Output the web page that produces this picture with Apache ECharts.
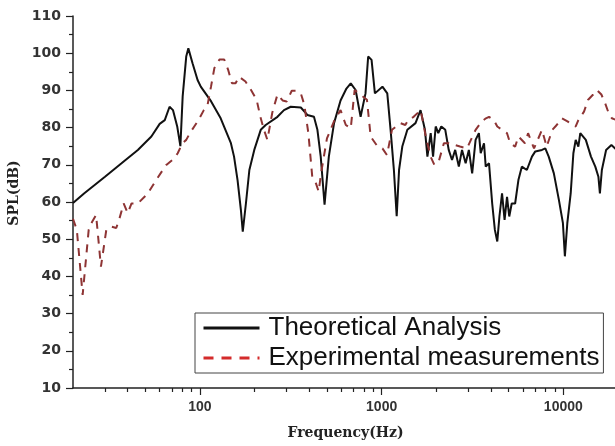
<!DOCTYPE html>
<html>
<head>
<meta charset="utf-8">
<script src="https://cdn.jsdelivr.net/npm/echarts@6/dist/echarts.min.js"></script>
<style>
html,body{margin:0;padding:0;background:#fff;}
#chart{width:615px;height:446px;}
</style>
</head>
<body>
<div id="chart"></div>
<script>
// Theoretical analysis (solid black)
const freqT = [20, 23, 30, 37, 45.5, 54, 60, 64, 68, 71, 75, 78, 80.3, 84, 86.3, 91, 97,
  101, 115, 130, 148, 154, 161, 168, 172, 179, 187, 199, 216, 230, 267, 290, 316, 359, 390, 424,
  443, 462, 485, 512, 547, 594, 640, 676, 719, 766, 815, 843, 880, 918, 1010, 1074, 1120, 1168,
  1210, 1247, 1299, 1385, 1536, 1637, 1731, 1786, 1862, 1919, 1984, 2050, 2130, 2240, 2340,
  2440, 2540, 2660, 2770, 2900, 3020, 3150, 3290, 3430, 3510, 3660, 3740, 3900, 4060, 4200,
  4330, 4450, 4600, 4750, 4900, 5040, 5200, 5430, 5660, 5910, 6300, 6720, 7010, 7630, 7960,
  8310, 8870, 9460, 9950, 10200, 10520, 10980, 11360, 11700, 12100, 12400, 13300, 14200,
  15000, 15600, 15900, 16300, 17200, 18400, 19700, 20000];
const splT = [59.7, 62.3, 66.8, 70.4, 74.0, 77.6, 81.0, 82.0, 85.6, 84.7, 80.2, 75.0, 88.4, 99.1, 101.3, 97.3, 92.8,
  91.0, 87.1, 82.5, 75.8, 72.2, 65.9, 57.8, 52.0, 59.6, 68.6, 74.0, 79.4, 80.7, 82.9, 84.7, 85.6, 85.4, 83.4, 82.9,
  79.4, 72.2, 59.3, 72.2, 81.2, 87.3, 90.5, 91.9, 90.1, 82.9, 89.2, 99.1, 98.2, 89.2, 91.0, 89.2, 79.4, 68.6,
  56.2, 68.6, 74.9, 79.4, 81.2, 84.7, 79.4, 72.2, 78.5, 72.2, 80.3, 78.5, 80.3, 79.4, 74.0,
  71.3, 74.0, 69.5, 74.0, 70.4, 74.0, 67.7, 76.7, 78.5, 73.1, 75.8, 69.5, 70.4, 59.6, 52.5,
  49.4, 56.1, 62.3, 55.2, 61.4, 56.1, 59.6, 59.6, 65.9, 69.5, 68.6, 72.2, 73.6, 74.0, 74.4,
  72.2, 67.7, 60.5, 54.3, 45.4, 54.3, 62.3, 73.1, 76.7, 74.9, 78.5, 76.7, 72.2,
  69.5, 66.8, 62.3, 68.6, 74.0, 75.3, 74.0, 73.5];

// Experimental measurements (dashed red)
const freqE = [20, 21, 22.6, 24.4, 25.5, 26.8, 28.5, 30.5, 32.5, 34.6, 36, 38, 40, 42, 45.5,
  51.6, 57.4, 65, 72, 75.4, 80, 84, 88, 93, 98, 105, 110, 115, 120, 128, 136, 143, 150, 157,
  164, 178, 191, 205, 215, 225, 235, 250, 267, 285, 300, 320, 340, 360, 375, 395, 415, 435,
  450, 465, 500, 550, 594, 635, 676, 710, 760, 830, 870, 950, 1010, 1070, 1140, 1270, 1350,
  1400, 1500, 1640, 1750, 1860, 1950, 2060, 2200, 2350, 2700, 2950, 3100, 3290, 3550, 3750,
  3900, 4150, 4330, 4600, 4900, 5100, 5430, 5660, 6150, 6400, 6900, 7630, 8100, 8700, 9200,
  9800, 10600, 11200, 11700, 12100, 13000, 13700, 14600, 15300, 16200, 17000, 17800, 18500, 19700];
const splE = [55.5, 52.5, 35.0, 52.5, 54.7, 56.5, 42.6, 52.5, 53.4, 53.0, 55.5, 59.6, 57.0, 59.6, 59.6,
  62.3, 65.9, 69.9, 71.7, 73.1, 75.8, 76.7, 78.5, 80.3, 82.0, 84.7, 86.0, 91.0, 96.0, 98.3, 98.3, 95.5, 91.9, 91.9,
  93.7, 92.4, 90.1, 87.5, 82.9, 79.4, 76.7, 84.0, 88.9, 87.3, 87.0, 89.9, 89.9, 89.0, 86.2, 78.5, 66.8, 65.0,
  62.8, 68.0, 77.1, 82.0, 84.7, 80.7, 79.8, 90.1, 89.0, 87.5, 77.6, 74.9, 74.4, 72.6, 79.4, 81.2, 80.7,
  82.0, 82.9, 84.7, 77.6, 72.2, 70.0, 70.8, 75.8, 75.8, 74.9, 74.4, 76.7, 79.4, 81.6, 82.5,
  82.9, 82.0, 80.3, 79.4, 78.5, 75.8, 74.9, 77.6, 75.8, 78.5, 74.4, 79.4, 74.9, 79.4, 80.7,
  82.5, 81.6, 80.7, 80.3, 82.0, 84.3, 87.5, 88.9, 90.1, 88.9, 86.5, 83.8, 82.5, 82.0];

const xMajorTicks = [100, 1000, 10000];
const xMinorTicks = [30, 40, 50, 60, 70, 80, 90, 200, 300, 400, 500, 600, 700, 800, 900,
  2000, 3000, 4000, 5000, 6000, 7000, 8000, 9000];
const seriesNames = ['Theoretical Analysis', 'Experimental measurements'];
const xMin = 20, xMax = 20000;

const chart = echarts.init(document.getElementById('chart'), null, {renderer: 'canvas'});
const noSymbol = {color: 'transparent', borderWidth: 0, opacity: 0};
const option = {
  animation: false,
  backgroundColor: '#fff',
  grid: {left: 73, right: -3, top: 16, bottom: 58, containLabel: false, outerBoundsMode: 'none'},
  legend: {
    orient: 'vertical',
    left: 195, top: 313,
    padding: [2, 4, 2, 7],
    itemWidth: 56, itemHeight: 14, itemGap: 4,
    borderColor: '#444', borderWidth: 1, borderRadius: 0,
    backgroundColor: '#fff',
    textStyle: {fontFamily: 'Liberation Sans', fontSize: 26, color: '#111', lineHeight: 26, padding: [0, 0, 0, 4]},
    data: [
      {name: seriesNames[0], itemStyle: noSymbol, lineStyle: {color: '#111', width: 3, type: 'solid'}},
      {name: seriesNames[1], itemStyle: noSymbol, lineStyle: {color: '#d42b2b', width: 3, type: [10, 8]}}
    ]
  },
  xAxis: [{
    type: 'log', logBase: 10, min: xMin, max: xMax,
    name: 'Frequency(Hz)', nameLocation: 'middle', nameGap: 38,
    nameTextStyle: {fontFamily: 'DejaVu Serif', fontWeight: 'bold', fontSize: 14, color: '#222'},
    axisLine: {show: true, lineStyle: {color: '#222', width: 1.5}},
    axisTick: {show: true, length: 7, lineStyle: {color: '#222', width: 1.2}},
    axisLabel: {
      margin: 12, showMinLabel: false, showMaxLabel: false,
      fontFamily: 'Liberation Sans', fontWeight: 'bold', fontSize: 14, color: '#333',
      formatter: function (v) { return xMajorTicks.indexOf(Math.round(v)) >= 0 ? String(Math.round(v)) : ''; }
    },
    splitLine: {show: false}, minorTick: {show: false}
  }, {
    // helper axis in log10 space that only draws the minor ticks
    type: 'value', min: Math.log10(xMin), max: Math.log10(xMax), position: 'bottom', gridIndex: 0,
    axisLine: {show: false},
    axisTick: {show: true, length: 4, customValues: xMinorTicks.map(v => Math.log10(v)), lineStyle: {color: '#222', width: 1.2}},
    axisLabel: {show: false},
    splitLine: {show: false}
  }],
  yAxis: {
    type: 'value', min: 10, max: 110, interval: 10,
    name: 'SPL(dB)', nameLocation: 'middle', nameGap: 50, nameRotate: 90,
    nameTextStyle: {fontFamily: 'DejaVu Serif', fontWeight: 'bold', fontSize: 14, color: '#222', padding: [0, 0, 0, 18]},
    axisLine: {show: true, lineStyle: {color: '#222', width: 1.5}},
    axisTick: {show: true, length: 7, lineStyle: {color: '#222', width: 1.2}},
    minorTick: {show: true, splitNumber: 2, length: 4, lineStyle: {color: '#222', width: 1.2}},
    axisLabel: {margin: 12, fontFamily: 'DejaVu Sans', fontWeight: 'bold', fontSize: 14, color: '#333'},
    splitLine: {show: false}
  },
  series: [{
    name: seriesNames[0], type: 'line', xAxisIndex: 0, symbol: 'none',
    lineStyle: {color: '#111', width: 2},
    itemStyle: {color: '#111'},
    data: freqT.map((f, i) => [f, splT[i]])
  }, {
    name: seriesNames[1], type: 'line', xAxisIndex: 0, symbol: 'none',
    lineStyle: {color: '#8e3434', width: 2, type: [8, 7]},
    itemStyle: {color: '#d42b2b'},
    data: freqE.map((f, i) => [f, splE[i]])
  }]
};
chart.setOption(option);
</script>
</body>
</html>
